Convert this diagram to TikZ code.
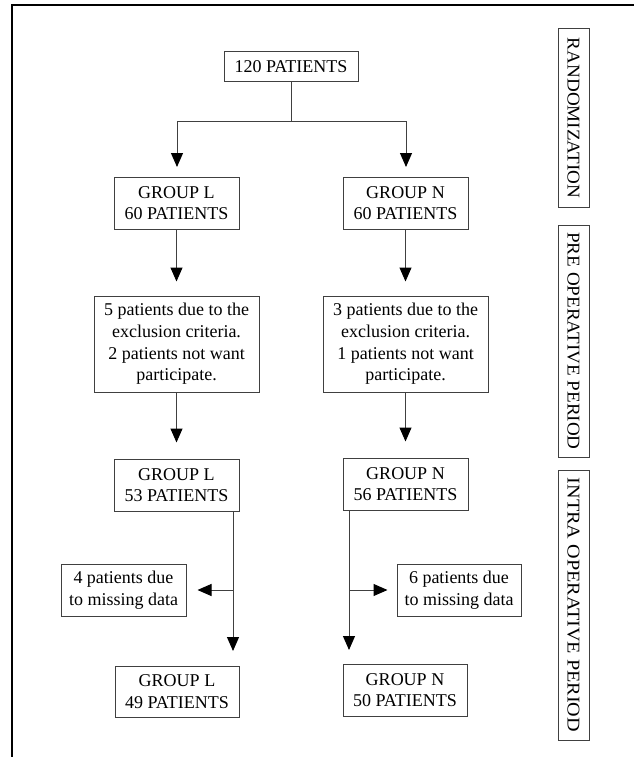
\documentclass[tikz,border=0pt]{standalone}
\usepackage{fontspec}
\setmainfont{Liberation Serif}
\usetikzlibrary{arrows.meta}
\begin{document}
\begin{tikzpicture}[x=1pt,y=-1pt,
  box/.style={draw=black!75, line width=1pt, inner sep=0pt, align=center,
    font=\fontsize{18}{21.7}\selectfont},
  sidebox/.style={box, rotate=-90, minimum height=31pt},
  conn/.style={draw=black!75, line width=1pt},
  arr/.style={conn, -{Triangle[length=14pt,width=12pt,color=black]}},
  frame/.style={draw=black, line width=1.5pt}]
\useasboundingbox (0,0) rectangle (634,757);
\draw[frame] (12,757) -- (12,5) -- (634,5);

% main column nodes
\node[box, minimum width=134pt, minimum height=30pt] (p120) at (291,67) {120 PATIENTS};
\node[box, minimum width=125pt, minimum height=52pt] (gL60) at (176.5,203) {GROUP L\\60 PATIENTS};
\node[box, minimum width=125pt, minimum height=52pt] (gN60) at (405.5,203) {GROUP N\\60 PATIENTS};
\node[box, minimum width=165pt, minimum height=96pt] (exL) at (176.5,344) {5 patients due to the\\exclusion criteria.\\2 patients not want\\participate.};
\node[box, minimum width=165pt, minimum height=96pt] (exN) at (405.5,344) {3 patients due to the\\exclusion criteria.\\1 patients not want\\participate.};
\node[box, minimum width=125pt, minimum height=52pt] (gL53) at (176.5,485) {GROUP L\\53 PATIENTS};
\node[box, minimum width=125pt, minimum height=52pt] (gN56) at (405.5,484) {GROUP N\\56 PATIENTS};
\node[box, minimum width=125pt, minimum height=52pt] (m4) at (123.5,590) {4 patients due\\to missing data};
\node[box, minimum width=124pt, minimum height=52pt] (m6) at (459,590) {6 patients due\\to missing data};
\node[box, minimum width=124pt, minimum height=51pt] (gL49) at (177,691.5) {GROUP L\\49 PATIENTS};
\node[box, minimum width=124pt, minimum height=52pt] (gN50) at (405,690) {GROUP N\\50 PATIENTS};

% side labels
\node[sidebox, minimum width=178pt] (rand) at (573.5,118) {\scalebox{1.06}[1]{RANDOMIZATION}};
\node[sidebox, minimum width=232pt] (pre) at (573.5,341) {\scalebox{1.06}[1]{PRE OPERATIVE PERIOD}};
\node[sidebox, minimum width=270pt] (intra) at (573.5,605) {\scalebox{1.12}[1]{INTRA OPERATIVE PERIOD}};

% connectors
\coordinate (split) at (291,122);
\draw[conn] (p120.south) -- (split);
\draw[arr, shorten >=10pt] (split) -| (177,177);
\draw[arr, shorten >=10pt] (split) -| (406,177);
\draw[arr, shorten >=14pt] (gL60.south) -- (exL.north);
\draw[arr, shorten >=14pt] (gN60.south) -- (exN.north);
\draw[arr, shorten >=16pt] (exL.south) -- (gL53.north);
\draw[arr, shorten >=16pt] (exN.south) -- (gN56.north);

\coordinate (Ls) at (233,511);
\coordinate (Lb) at (233,590);
\coordinate (Ns) at (349,510);
\coordinate (Nb) at (349,590);
\draw[arr, shorten >=15pt] (Ls) -- (233,666);
\draw[arr, shorten >=11pt] (Lb) -- (m4.east);
\draw[arr, shorten >=14pt] (Ns) -- (349,664);
\draw[arr, shorten >=9pt] (Nb) -- (m6.west);
\end{tikzpicture}
\end{document}
